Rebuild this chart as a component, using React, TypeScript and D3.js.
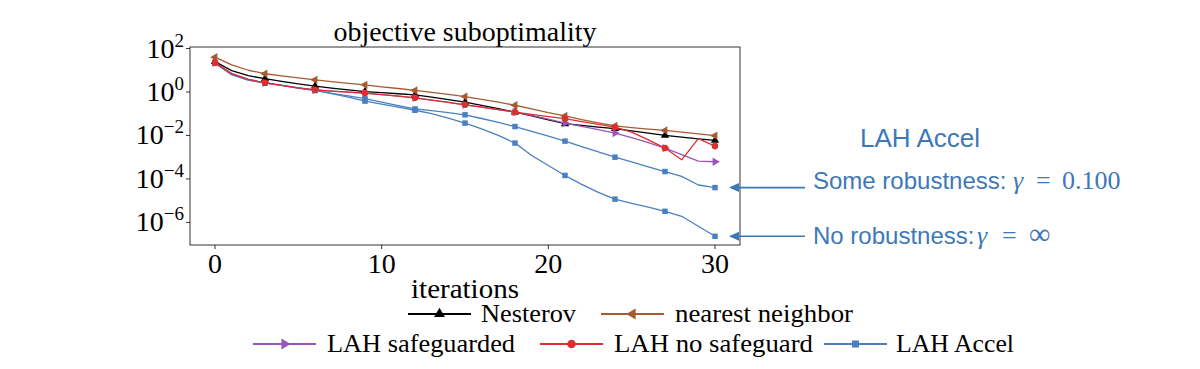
import React from "react";
import * as d3 from "d3";

// iteration index (x values)
const iterations = [0, 1, 2, 3, 4, 5, 6, 7, 8, 9, 10, 11, 12, 13, 14, 15, 16, 17, 18, 19, 20, 21, 22, 23, 24, 25, 26, 27, 28, 29, 30];

// objective suboptimality, stored as log10 of the value
const nesterovLog10 = [1.40, 0.98, 0.75, 0.61, 0.49, 0.37, 0.27, 0.18, 0.10, 0.02, -0.03, -0.08, -0.13, -0.24, -0.35, -0.47, -0.62, -0.77, -0.93, -1.10, -1.28, -1.46, -1.54, -1.62, -1.69, -1.79, -1.89, -2.00, -2.08, -2.16, -2.23];
const nearestLog10 = [1.60, 1.25, 1.00, 0.84, 0.74, 0.65, 0.56, 0.48, 0.40, 0.33, 0.24, 0.16, 0.07, -0.02, -0.11, -0.21, -0.34, -0.47, -0.61, -0.78, -0.95, -1.10, -1.27, -1.42, -1.56, -1.64, -1.71, -1.77, -1.85, -1.93, -2.01];
const safeguardedLog10 = [1.34, 0.85, 0.58, 0.42, 0.30, 0.19, 0.10, 0.04, -0.01, -0.05, -0.12, -0.19, -0.27, -0.37, -0.48, -0.59, -0.70, -0.81, -0.93, -1.08, -1.25, -1.43, -1.58, -1.73, -1.89, -2.10, -2.33, -2.58, -2.88, -3.18, -3.21];
const noSafeguardLog10 = [1.34, 0.85, 0.58, 0.42, 0.30, 0.19, 0.10, 0.04, -0.01, -0.05, -0.12, -0.19, -0.27, -0.37, -0.48, -0.59, -0.70, -0.81, -0.93, -1.03, -1.13, -1.23, -1.36, -1.49, -1.62, -1.85, -2.20, -2.58, -3.12, -2.15, -2.49];
const accelSomeLog10 = [1.34, 0.80, 0.55, 0.42, 0.30, 0.18, 0.07, -0.06, -0.18, -0.31, -0.47, -0.63, -0.78, -0.86, -0.95, -1.05, -1.22, -1.40, -1.59, -1.81, -2.03, -2.26, -2.51, -2.76, -3.00, -3.22, -3.44, -3.66, -3.88, -4.28, -4.40];
const accelNoneLog10 = [1.34, 0.80, 0.55, 0.42, 0.30, 0.18, 0.07, -0.08, -0.24, -0.42, -0.56, -0.70, -0.84, -1.00, -1.20, -1.43, -1.70, -2.00, -2.35, -2.92, -3.38, -3.84, -4.25, -4.62, -4.93, -5.12, -5.30, -5.49, -5.72, -6.18, -6.64];

const xTicks = [0, 10, 20, 30];
const yTickExponents = [2, 0, -2, -4, -6];
const xDomain = [-1.5, 31.5];
const yDomainLog10 = [-7.04, 2.07];

const BLUE = "#4a80c0";
const ANNOT = "#3d78b8";
const FONT_SERIF = "'Liberation Serif', 'Times New Roman', serif";
const FONT_SANS = "'Liberation Sans', Arial, sans-serif";

type Marker = "triUp" | "triLeft" | "triRight" | "circle" | "square";

function symbolPath(m: Marker) {
  if (m === "circle") return d3.symbol(d3.symbolCircle, 34)()!;
  if (m === "square") return d3.symbol(d3.symbolSquare, 30)()!;
  return d3.symbol(d3.symbolTriangle, 30)()!;
}
function rot(m: Marker) {
  if (m === "triLeft") return -90;
  if (m === "triRight") return 90;
  return 0;
}

export default function App() {
  const L = 190, R = 740, T = 47, B = 245;
  const x = d3.scaleLinear().domain(xDomain).range([L, R]);
  const y = d3.scaleLog().domain(yDomainLog10.map((e) => Math.pow(10, e))).range([B, T]);

  const series: { name: string; data: number[]; color: string; marker: Marker }[] = [
    { name: "accelNone", data: accelNoneLog10, color: BLUE, marker: "square" },
    { name: "accelSome", data: accelSomeLog10, color: BLUE, marker: "square" },
    { name: "Nesterov", data: nesterovLog10, color: "#000000", marker: "triUp" },
    { name: "nearest neighbor", data: nearestLog10, color: "#a85a32", marker: "triLeft" },
    { name: "LAH safeguarded", data: safeguardedLog10, color: "#9b55b8", marker: "triRight" },
    { name: "LAH no safeguard", data: noSafeguardLog10, color: "#dc2f2f", marker: "circle" },
  ];

  const line = d3
    .line<number>()
    .x((_, i) => x(iterations[i]))
    .y((d) => y(Math.pow(10, d)));

  const legendRow1 = [
    { name: "Nesterov", color: "#000000", marker: "triUp" as Marker, x0: 408, tx: 481, w: 95 },
    { name: "nearest neighbor", color: "#a85a32", marker: "triLeft" as Marker, x0: 601, tx: 675, w: 178 },
  ];
  const legendRow2 = [
    { name: "LAH safeguarded", color: "#9b55b8", marker: "triRight" as Marker, x0: 253, tx: 327, w: 188 },
    { name: "LAH no safeguard", color: "#dc2f2f", marker: "circle" as Marker, x0: 540, tx: 614, w: 199 },
    { name: "LAH Accel", color: BLUE, marker: "square" as Marker, x0: 824, tx: 896, w: 118 },
  ];

  const renderLegend = (items: typeof legendRow1, cy: number) =>
    items.map((it) => (
      <g key={it.name}>
        <line x1={it.x0} x2={it.x0 + 63} y1={cy} y2={cy} stroke={it.color} strokeWidth={1.8} />
        <path d={symbolPath(it.marker)} transform={`translate(${it.x0 + 31.5},${cy}) rotate(${rot(it.marker)}) scale(1.3)`} fill={it.color} />
        <text x={it.tx} y={cy + 8} fontFamily={FONT_SERIF} fontSize={26} fill="#000" textLength={it.w} lengthAdjust="spacingAndGlyphs">
          {it.name}
        </text>
      </g>
    ));

  const ySome = y(Math.pow(10, accelSomeLog10[30]));
  const yNone = y(Math.pow(10, accelNoneLog10[30]));

  return (
    <svg width={1200} height={369} style={{ position: "absolute", left: 0, top: 0, background: "#fff" }}>
      <rect x={0} y={0} width={1200} height={369} fill="#fff" />
      {/* title */}
      <text x={(L + R) / 2} y={41} textAnchor="middle" fontFamily={FONT_SERIF} fontSize={27} textLength={263} lengthAdjust="spacingAndGlyphs">
        objective suboptimality
      </text>

      {/* series */}
      {series.map((s) => (
        <g key={s.name}>
          <path d={line(s.data)!} fill="none" stroke={s.color} strokeWidth={1.3} strokeLinejoin="round" />
          {iterations
            .filter((it) => it % 3 === 0)
            .map((it) => (
              <path
                key={it}
                d={symbolPath(s.marker)}
                transform={`translate(${x(it)},${y(Math.pow(10, s.data[it]))}) rotate(${rot(s.marker)})`}
                fill={s.color}
              />
            ))}
        </g>
      ))}

      {/* frame */}
      <rect x={L} y={T} width={R - L} height={B - T} fill="none" stroke="#333" strokeWidth={1} />

      {/* x ticks */}
      {xTicks.map((t) => (
        <g key={t}>
          <line x1={x(t)} x2={x(t)} y1={B} y2={B + 4} stroke="#333" strokeWidth={1} />
          <text x={x(t)} y={B + 28} textAnchor="middle" fontFamily={FONT_SERIF} fontSize={28}>
            {t}
          </text>
        </g>
      ))}
      {/* y ticks */}
      {yTickExponents.map((e) => {
        const yy = y(Math.pow(10, e));
        const label = e < 0 ? `\u2212${-e}` : `${e}`;
        return (
          <g key={e}>
            <line x1={L - 4} x2={L} y1={yy} y2={yy} stroke="#333" strokeWidth={1} />
            <text x={L - 6} y={yy + 9} textAnchor="end" fontFamily={FONT_SERIF} fontSize={28}>
              10
              <tspan fontSize={19} dy={-11}>
                {label}
              </tspan>
            </text>
          </g>
        );
      })}

      {/* x label */}
      <text x={(L + R) / 2} y={298} textAnchor="middle" fontFamily={FONT_SERIF} fontSize={27} textLength={108} lengthAdjust="spacingAndGlyphs">
        iterations
      </text>

      {/* legend */}
      {renderLegend(legendRow1, 314)}
      {renderLegend(legendRow2, 344)}

      {/* annotations */}
      <text x={920} y={147} textAnchor="middle" fontFamily={FONT_SANS} fontSize={26} fill={ANNOT}>
        LAH Accel
      </text>
      <g>
        <line x1={805} x2={736} y1={ySome} y2={ySome} stroke={ANNOT} strokeWidth={1.6} />
        <path d={`M729,${ySome} l10,-4.5 l0,9 z`} fill={ANNOT} />
        <text x={813} y={189} fontFamily={FONT_SANS} fontSize={24} fill={ANNOT}>
          Some robustness:
        </text>
        <text x={1013} y={189} fontFamily={FONT_SERIF} fontStyle="italic" fontSize={26} fill={ANNOT}>γ</text>
        <text x={1036} y={189} fontFamily={FONT_SERIF} fontSize={26} fill={ANNOT}>=</text>
        <text x={1062} y={189} fontFamily={FONT_SERIF} fontSize={26} fill={ANNOT}>0.100</text>
      </g>
      <g>
        <line x1={805} x2={736} y1={yNone} y2={yNone} stroke={ANNOT} strokeWidth={1.6} />
        <path d={`M729,${yNone} l10,-4.5 l0,9 z`} fill={ANNOT} />
        <text x={813} y={244} fontFamily={FONT_SANS} fontSize={24} fill={ANNOT}>
          No robustness:
        </text>
        <text x={977} y={244} fontFamily={FONT_SERIF} fontStyle="italic" fontSize={26} fill={ANNOT}>γ</text>
        <text x={1002} y={244} fontFamily={FONT_SERIF} fontSize={26} fill={ANNOT}>=</text>
        <text x={1029} y={244} fontFamily={FONT_SERIF} fontSize={30} fill={ANNOT}>∞</text>
      </g>
    </svg>
  );
}
